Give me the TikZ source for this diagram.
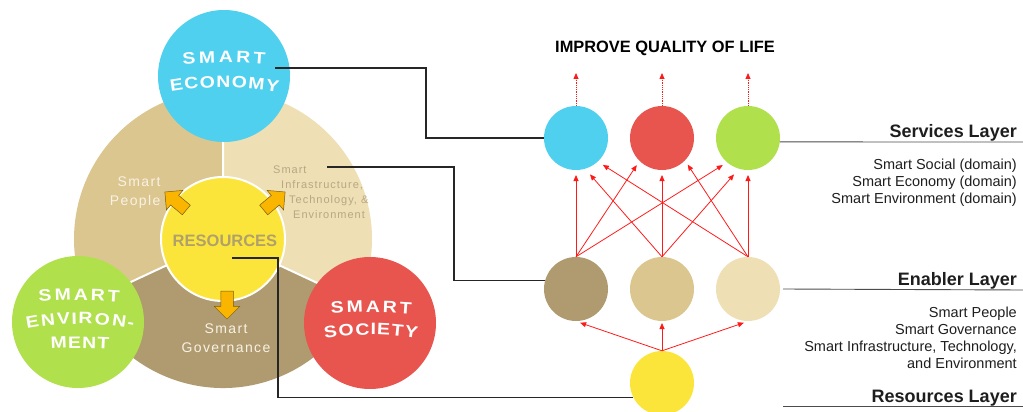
\documentclass[tikz,border=0pt]{standalone}
\usepackage{fontspec}
\setmainfont{Liberation Sans}
\newfontfamily\widefont[FakeStretch=1.18]{Liberation Sans}
\usetikzlibrary{calc,shapes.arrows,arrows.meta,decorations.text}

\definecolor{econblue}{HTML}{4FD0EF}
\definecolor{socred}{HTML}{E8554F}
\definecolor{envgreen}{HTML}{B0E04C}
\definecolor{resyellow}{HTML}{FCE53B}
\definecolor{govbrown}{HTML}{AF9B6F}
\definecolor{peopletan}{HTML}{DCC68F}
\definecolor{infralight}{HTML}{EEDFB5}
\definecolor{arroworange}{HTML}{F9B500}
\definecolor{arrowedge}{HTML}{7A5C10}
\definecolor{restext}{HTML}{B0A06C}
\definecolor{infratext}{HTML}{B8A784}
\definecolor{softwhite}{HTML}{F8F2E4}
\definecolor{netred}{HTML}{FF1A1A}
\definecolor{labelgray}{HTML}{1E1E1E}

\tikzset{
  bigdisc/.style={circle, inner sep=0pt, minimum size=132pt},
  layerdot/.style={circle, inner sep=0pt, minimum size=64pt},
  curvedword/.style={decorate, decoration={text effects along path, text={#1},
      text effects/.cd, text along path, fit text to path,
      every character/.style={font=\widefont\bfseries\fontsize{16.5}{16.5}\selectfont, text=white}}},
  link/.style={line width=1.2pt, black!85},
  layerline/.style={line width=0.9pt, black!70},
  netarrow/.style={netred, line width=0.8pt, -{Triangle[length=6pt,width=5pt]}},
  toparrow/.style={netarrow, densely dotted},
  blockarrow/.style={single arrow, draw=arrowedge, fill=arroworange, line width=0.5pt,
      minimum height=28pt, inner xsep=0pt, inner ysep=6pt, single arrow head extend=6.5pt},
  layertitle/.style={font=\bfseries\fontsize{18}{20}\selectfont, text=labelgray, anchor=base east, inner sep=0pt},
  layertext/.style={font=\fontsize{14.5}{17}\selectfont, text=labelgray, align=right, anchor=north east, inner sep=0pt},
}

\begin{document}
\begin{tikzpicture}[x=1pt,y=1pt]
\useasboundingbox (0,0) rectangle (1023,-412);
\clip (0,0) rectangle (1023,-412);

\coordinate (hub) at (223,-239);
\fill[peopletan] (hub) -- ++(90:149) arc[start angle=90, end angle=205, radius=149] -- cycle;
\fill[infralight] (hub) -- ++(-25:149) arc[start angle=-25, end angle=90, radius=149] -- cycle;
\fill[govbrown] (hub) -- ++(205:149) arc[start angle=205, end angle=335, radius=149] -- cycle;
\draw[white, line width=2pt] (hub) -- ++(90:149) (hub) -- ++(205:149) (hub) -- ++(-25:149);

\node[circle, inner sep=0pt, minimum size=124pt, fill=resyellow, draw=white, line width=2pt] (res) at (hub) {};
\node[font=\bfseries\fontsize{16.5}{18}\selectfont, text=restext] (restitle) at (225,-241) {RESOURCES};

\node[font=\fontsize{14}{19}\selectfont\addfontfeatures{LetterSpace=10}, text=softwhite, align=right, anchor=east] (people) at (164,-193) {Smart\\People};
\node[font=\fontsize{11}{15}\selectfont\addfontfeatures{LetterSpace=9}, text=infratext, align=left, anchor=north west, inner sep=0pt] (infra) at (273,-166) {Smart\\\hspace*{8pt}Infrastructure,\\\hspace*{16pt}Technology, \&\\\hspace*{20pt}Environment};
\node[font=\fontsize{14}{19}\selectfont\addfontfeatures{LetterSpace=10}, text=softwhite, align=center] (gov) at (226,-338) {Smart\\Governance};

\node[blockarrow, rotate=140] (arrowpeople) at (178,-203) {};
\node[blockarrow, rotate=40] (arrowinfra) at (272,-203) {};
\node[blockarrow, rotate=-90] (arrowgov) at (227,-302) {};

\node[bigdisc, fill=econblue] (econ) at (224,-76) {};
\node[bigdisc, fill=envgreen] (env) at (78,-322) {};
\node[bigdisc, fill=socred] (soc) at (370,-323) {};

\path[curvedword=SMART] (183,-64.5) arc[start angle=94.7, end angle=85.3, radius=500];
\path[curvedword=ECONOMY] (171,-92) arc[start angle=99.7, end angle=80.3, radius=318];
\path[curvedword=SMART] (39,-302) arc[start angle=94.6, end angle=85.4, radius=500];
\path[curvedword=ENVIRON-] (27,-329) arc[start angle=100.9, end angle=79.1, radius=281];
\path[curvedword=MENT] (51,-349) arc[start angle=93.33, end angle=86.67, radius=500];
\path[curvedword=SMART] (331,-314) arc[start angle=94.6, end angle=85.4, radius=500];
\path[curvedword=SOCIETY] (325,-339) arc[start angle=100, end angle=80, radius=265];

\node[font=\bfseries\fontsize{16.4}{18}\selectfont, anchor=base] (goal) at (665,-53) {IMPROVE QUALITY OF LIFE};

\node[layerdot, fill=econblue] (s1) at (576,-138) {};
\node[layerdot, fill=socred] (s2) at (662,-138) {};
\node[layerdot, fill=envgreen] (s3) at (748,-138) {};
\node[layerdot, fill=govbrown] (e1) at (576,-289) {};
\node[layerdot, fill=peopletan] (e2) at (662,-289) {};
\node[layerdot, fill=infralight] (e3) at (748,-289) {};
\node[layerdot, fill=resyellow] (r1) at (662,-383) {};

\coordinate (up1) at (576,-73);
\coordinate (up2) at (662,-73);
\coordinate (up3) at (748,-73);
\draw[toparrow] (s1.north) -- (up1);
\draw[toparrow] (s2.north) -- (up2);
\draw[toparrow] (s3.north) -- (up3);

\draw[netarrow] (e1.north) -- ($(s1)+(-90:37)$);
\draw[netarrow] (e1.north) -- ($(s2)+(-133:37)$);
\draw[netarrow] (e1.north) -- ($(s3)+(-133:37)$);
\draw[netarrow] (e2.north) -- ($(s1)+(-69:39)$);
\draw[netarrow] (e2.north) -- ($(s2)+(-90:37)$);
\draw[netarrow] (e2.north) -- ($(s3)+(-111:39)$);
\draw[netarrow] (e3.north) -- ($(s1)+(-45:38)$);
\draw[netarrow] (e3.north) -- ($(s2)+(-46:37)$);
\draw[netarrow] (e3.north) -- ($(s3)+(-90:37)$);
\draw[netarrow] (r1.north) -- ($(e1)+(-83:34)$);
\draw[netarrow] (r1.north) -- ($(e2)+(-90:34)$);
\draw[netarrow] (r1.north) -- ($(e3)+(-97:34)$);

\coordinate (econtail) at (275,-68);
\coordinate (infratail) at (327,-167);
\coordinate (restail) at (232,-258);
\draw[link] (econtail) -- ++(151,0) |- (s1.west);
\draw[link] (infratail) -- ++(127,0) |- (e1.165);
\draw[link] (restail) -- ++(46,0) |- (r1.206);

\coordinate (svcend) at (1023,-142);
\coordinate (enbend) at (1023,-290);
\coordinate (resstart) at (783,-406);
\coordinate (resend) at (1023,-406);
\node[layertitle] (svctitle) at (1017,-137) {Services Layer};
\draw[layerline] (s3.-7) -- (svcend);
\node[layertext] (svctext) at (1017,-158.5) {Smart Social (domain)\\Smart Economy (domain)\\Smart Environment (domain)};
\node[layertitle] (enbtitle) at (1017,-285) {Enabler Layer};
\draw[layerline] ([xshift=3pt]e3.east) -- (enbend);
\node[layertext] (enbtext) at (1017,-306.5) {Smart People\\Smart Governance\\Smart Infrastructure, Technology,\\and Environment};
\node[layertitle] (restitle2) at (1017,-402) {Resources Layer};
\draw[layerline] (resstart) -- (resend);
\end{tikzpicture}
\end{document}
